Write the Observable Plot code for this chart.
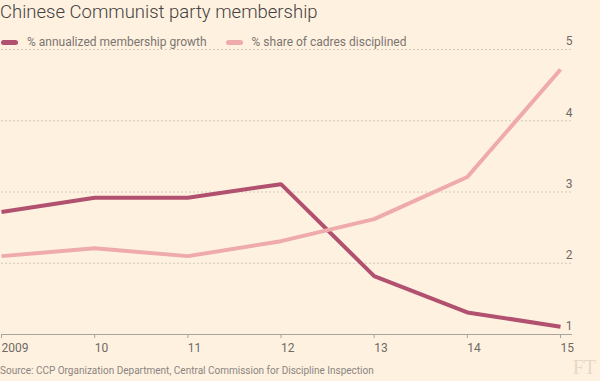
<!DOCTYPE html>
<html>
<head>
<meta charset="utf-8">
<script src="https://cdn.jsdelivr.net/npm/d3@7"></script>
<script src="https://cdn.jsdelivr.net/npm/@observablehq/plot@0.6"></script>
<style>
  html, body { margin: 0; padding: 0; background: #fff1e0; }
  #wrap { position: relative; width: 600px; height: 381px; overflow: hidden; background: #fff1e0; font-family: Roboto, "Liberation Sans", sans-serif; }
  #title { position: absolute; left: 0; top: 1px; font-size: 18.5px; font-weight: 300; color: #43413f; white-space: nowrap; }
  #legend { position: absolute; left: 1px; top: 35px; font-size: 12px; color: #7a7570; display: flex; align-items: center; white-space: nowrap; }
  .sw { display: inline-block; width: 17px; height: 5px; border-radius: 3px; margin-right: 9px; }
  .item { display: flex; align-items: center; margin-right: 19px; }
  #chart { position: absolute; left: 0; top: 28px; }
  #source { position: absolute; left: 0; top: 365px; font-size: 10px; color: #8a8580; white-space: nowrap; }
  #ft { position: absolute; right: 4px; top: 357px; line-height: 20px; font-family: "Liberation Serif", "DejaVu Serif", serif; font-size: 20px; color: #e8d9c5; }
</style>
</head>
<body>
<div id="wrap">
  <div id="title">Chinese Communist party membership</div>
  <div id="chart"></div>
  <div id="legend"></div>
  <div id="source">Source: CCP Organization Department, Central Commission for Discipline Inspection</div>
  <div id="ft">FT</div>
</div>
<script>
const years = [2009, 2010, 2011, 2012, 2013, 2014, 2015];
const xTickLabels = ["2009", "10", "11", "12", "13", "14", "15"];
const growth = [2.72, 2.92, 2.92, 3.11, 1.82, 1.31, 1.11];
const cadres = [2.10, 2.21, 2.10, 2.31, 2.62, 3.21, 4.72];
const yTicks = [1, 2, 3, 4, 5];
const seriesNames = ["% annualized membership growth", "% share of cadres disciplined"];
const seriesColors = ["#b1506f", "#efaaab"];

const rows = [];
years.forEach((yr, i) => {
  rows.push({year: yr, value: growth[i], series: seriesNames[0]});
  rows.push({year: yr, value: cadres[i], series: seriesNames[1]});
});

const legend = document.getElementById("legend");
seriesNames.forEach((n, i) => {
  const it = document.createElement("span");
  it.className = "item";
  it.innerHTML = `<span class="sw" style="background:${seriesColors[i]}"></span>${n}`;
  legend.appendChild(it);
});

const chart = Plot.plot({
  width: 600,
  height: 332,
  marginTop: 21,
  marginBottom: 26,
  marginLeft: 1,
  marginRight: 28,
  style: {background: "transparent", fontFamily: "Roboto, 'Liberation Sans', sans-serif"},
  x: {type: "linear", domain: [2009, 2015], range: [1, 560]},
  y: {type: "linear", domain: [1, 5], axis: null},
  color: {domain: seriesNames, range: seriesColors},
  marks: [
    Plot.ruleY(yTicks.filter(d => d > 1), {y: d => d, stroke: "#d3c8bc", strokeDasharray: "2,2", strokeWidth: 1}),
    Plot.ruleY([1], {y: d => d, stroke: "#a8a39c", strokeWidth: 1}),
    Plot.axisX({ticks: years, tickFormat: d => xTickLabels[years.indexOf(d)], tickSize: 4, tickPadding: 5, textAnchor: "start", stroke: "#a8a39c", fill: "#6e6a66", fontSize: 12, label: null}),
    Plot.text(yTicks, {y: d => d, frameAnchor: "right", textAnchor: "end", dy: -8, text: d => String(d), fill: "#6e6a66", fontSize: 12}),
    Plot.line(rows, {x: "year", y: "value", z: "series", stroke: "series", strokeWidth: 4, strokeLinejoin: "miter", strokeLinecap: "butt"})
  ]
});
document.getElementById("chart").appendChild(chart);
</script>
</body>
</html>
